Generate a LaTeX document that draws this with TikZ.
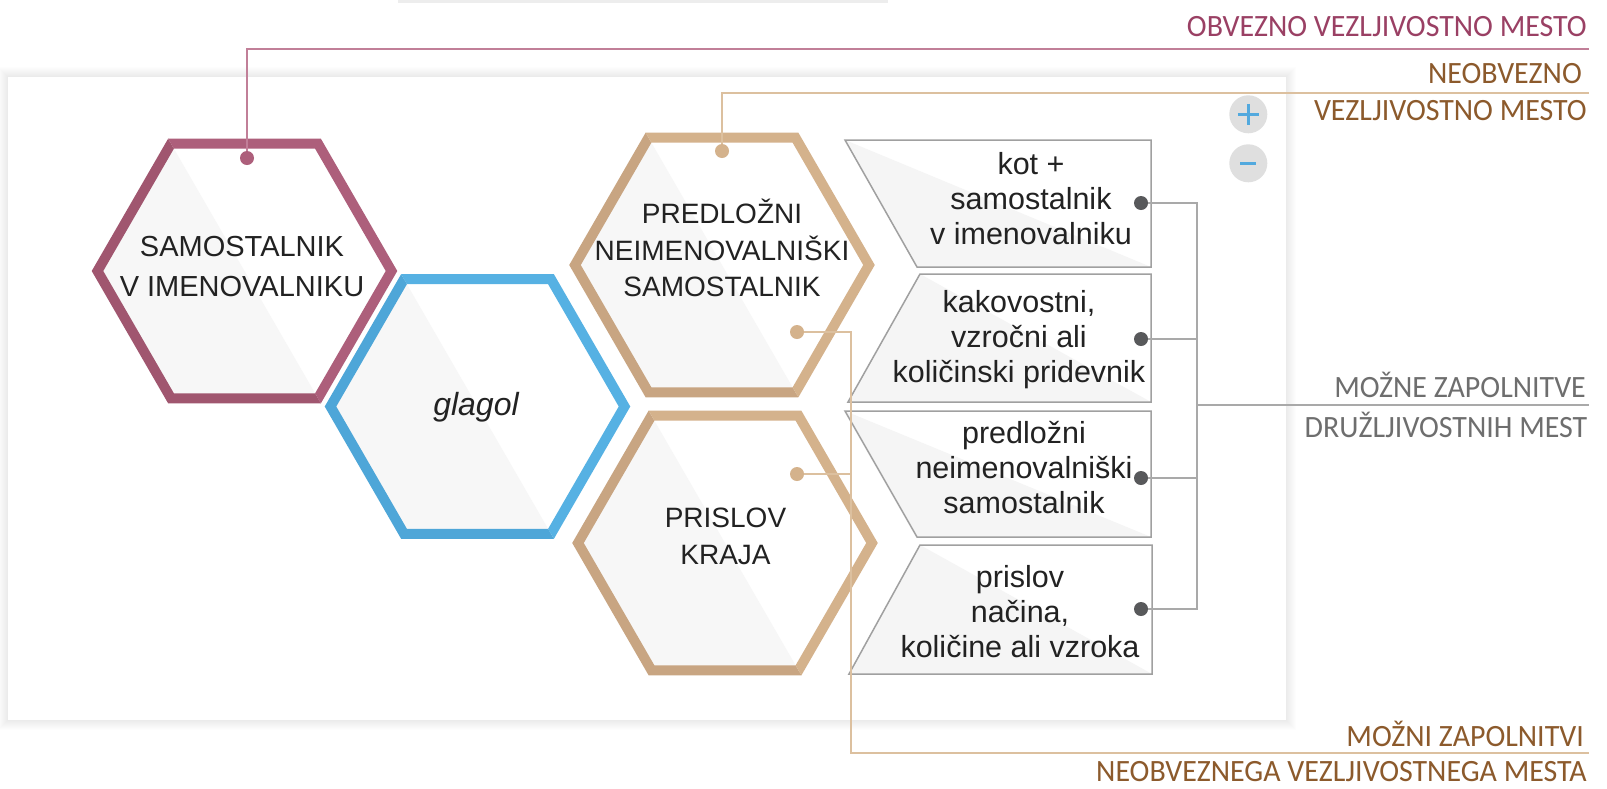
\documentclass[tikz,border=0pt]{standalone}
\usepackage{fontspec}
\setmainfont{Liberation Sans}
\newfontfamily\lblfont{Carlito}[FakeStretch=0.965]
\usetikzlibrary{calc}
\definecolor{magL}{HTML}{AD5F7B}
\definecolor{magD}{HTML}{A0566F}
\definecolor{bluL}{HTML}{56B1E3}
\definecolor{bluD}{HTML}{4EA6D8}
\definecolor{tanL}{HTML}{D4B28C}
\definecolor{tanD}{HTML}{C8A582}
\definecolor{hexgray}{HTML}{F7F7F7}
\definecolor{boxgray}{HTML}{F5F5F5}
\definecolor{boxedge}{HTML}{A0A0A0}
\definecolor{txtcol}{HTML}{222222}
\definecolor{magtxt}{HTML}{9A4064}
\definecolor{brntxt}{HTML}{8C5A2C}
\definecolor{grytxt}{HTML}{6E6E6E}
\definecolor{magln}{HTML}{C17F98}
\definecolor{tanln}{HTML}{DCC09F}
\definecolor{gryln}{HTML}{A9A9A9}
\definecolor{dotgray}{HTML}{58595B}
\definecolor{btnfill}{HTML}{DFDFDF}
\definecolor{btnblue}{HTML}{52A9DE}
\newcommand{\hexcell}[5]{%
\begin{scope}[shift={(#2,#3)}]
\fill[white] (147,0)--(73.5,127.3)--(-73.5,127.3)--(-147,0)--(-73.5,-127.3)--(73.5,-127.3)--cycle;
\begin{scope}
\clip (-88.2,-152.8)--(88.2,152.8)--(-400,152.8)--(-400,-152.8)--cycle;
\fill[hexgray] (147,0)--(73.5,127.3)--(-73.5,127.3)--(-147,0)--(-73.5,-127.3)--(73.5,-127.3)--cycle;
\draw[#5,line width=10pt] (147,0)--(73.5,127.3)--(-73.5,127.3)--(-147,0)--(-73.5,-127.3)--(73.5,-127.3)--cycle;
\end{scope}
\begin{scope}
\clip (-88.2,-152.8)--(88.2,152.8)--(400,152.8)--(400,-152.8)--cycle;
\draw[#4,line width=10pt] (147,0)--(73.5,127.3)--(-73.5,127.3)--(-147,0)--(-73.5,-127.3)--(73.5,-127.3)--cycle;
\end{scope}
\end{scope}
\coordinate (#1) at (#2,#3);}
\begin{document}
\begin{tikzpicture}[x=1pt,y=-1pt,
  boxline/.style={draw=boxedge,line width=1.5pt},
  boxtxt/.style={align=center,inner sep=0pt,text=txtcol,font=\fontsize{30.5}{35}\selectfont},
  hextxt/.style={align=center,inner sep=0pt,text=txtcol},
  lbl/.style={inner sep=0pt,anchor=base east,font=\lblfont\fontsize{31}{31}\selectfont},
  dot/.style={circle,inner sep=0pt,minimum size=14pt},
  conn/.style={line width=1.5pt}]
\useasboundingbox (0,0) rectangle (1607,788);
\fill[white] (0,0) rectangle (1607,788);
% top faint bar
\fill[black!7] (398,0) rectangle (888,2.5);
% panel with soft shadow
\foreach \i in {1,...,10} {
  \fill[black,opacity=0.008] (8-\i,77-\i) rectangle (1286+\i,720+\i);
}
\fill[white] (8,77) rectangle (1286,720);
% hexagons
\hexcell{h1}{244.5}{271}{magL}{magD}
\hexcell{h2}{477.5}{406.5}{bluL}{bluD}
\hexcell{h3}{722}{265}{tanL}{tanD}
\hexcell{h4}{725}{543}{tanL}{tanD}
% boxes
\fill[white] (845,140)--(1151,140)--(1151,267)--(917,267)--cycle;
\fill[boxgray] (845,140)--(1151,267)--(917,267)--cycle;
\draw[boxline] (845,140)--(1151,140)--(1151,267)--(917,267)--cycle;
\fill[white] (920,274)--(1151,274)--(1151,402)--(848,402)--cycle;
\fill[boxgray] (920,274)--(1151,402)--(848,402)--cycle;
\draw[boxline] (920,274)--(1151,274)--(1151,402)--(848,402)--cycle;
\fill[white] (845,411)--(1151,411)--(1151,537)--(917,537)--cycle;
\fill[boxgray] (845,411)--(1151,537)--(917,537)--cycle;
\draw[boxline] (845,411)--(1151,411)--(1151,537)--(917,537)--cycle;
\fill[white] (920,545)--(1152,545)--(1152,674)--(849,674)--cycle;
\fill[boxgray] (920,545)--(1152,674)--(849,674)--cycle;
\draw[boxline] (920,545)--(1152,545)--(1152,674)--(849,674)--cycle;
% texts
\node[hextxt,font=\fontsize{29}{40}\selectfont] (t1) at (242,267) {SAMOSTALNIK\\V IMENOVALNIKU};
\node[hextxt,font=\itshape\fontsize{32}{36}\selectfont] (t2) at (476,407) {glagol};
\node[hextxt,font=\fontsize{28}{36.5}\selectfont] (t3) at (722,248) {PREDLOŽNI\\NEIMENOVALNIŠKI\\SAMOSTALNIK};
\node[hextxt,font=\fontsize{28}{37}\selectfont] (t4) at (725.5,536.5) {PRISLOV\\KRAJA};
\node[boxtxt] (b1) at (1031,198.5) {kot +\\samostalnik\\v imenovalniku};
\node[boxtxt] (b2) at (1019,339.5) {kakovostni,\\vzročni ali\\količinski pridevnik};
\node[boxtxt] (b3) at (1024,467.5) {predložni\\neimenovalniški\\samostalnik};
\node[boxtxt] (b4) at (1020,612) {prislov\\načina,\\količine ali vzroka};
% buttons
\node[circle,fill=btnfill,minimum size=38pt,inner sep=0pt] (plus) at (1248.3,114.3) {};
\draw[btnblue,line width=3pt] ($(plus)+(-10.5,0)$) -- ($(plus)+(10.5,0)$) ($(plus)+(0,-10.5)$) -- ($(plus)+(0,10.5)$);
\node[circle,fill=btnfill,minimum size=38pt,inner sep=0pt] (minus) at (1248.3,163.3) {};
\draw[btnblue,line width=3pt] ($(minus)+(-8,0)$) -- ($(minus)+(8,0)$);
% dots
\node[dot,fill=magL] (d1) at (247,158) {};
\node[dot,fill=tanL] (d3a) at (722,151) {};
\node[dot,fill=tanL] (d3b) at (797,332) {};
\node[dot,fill=tanL] (d4) at (797,474) {};
\node[dot,fill=dotgray] (e1) at (1141,203) {};
\node[dot,fill=dotgray] (e2) at (1141,339) {};
\node[dot,fill=dotgray] (e3) at (1141,478) {};
\node[dot,fill=dotgray] (e4) at (1141,609) {};
% label anchors
\coordinate (m2) at (1589,49);
\coordinate (n2) at (1589,93);
\coordinate (t1c) at (851,753);
\coordinate (t2c) at (1589,753);
\coordinate (g1) at (1197,405);
\coordinate (g2) at (1589,405);
% connectors
\draw[conn,magln] (d1) |- (m2);
\draw[conn,tanln] (d3a) |- (n2);
\draw[conn,tanln] (d3b) -| (t1c) -- (t2c);
\draw[conn,tanln] (d4) -- (d4 -| t1c);
\draw[conn,gryln] (e1) -| (g1);
\draw[conn,gryln] (e4) -| (g1);
\draw[conn,gryln] (e2) -- (e2 -| g1);
\draw[conn,gryln] (e3) -- (e3 -| g1);
\draw[conn,gryln] (g1) -- (g2);
% labels
\node[lbl,text=magtxt] (L1) at (1587,36) {OBVEZNO VEZLJIVOSTNO MESTO};
\node[lbl,text=brntxt] (L2) at (1582,83.5) {NEOBVEZNO};
\node[lbl,text=brntxt] (L3) at (1587,120.7) {VEZLJIVOSTNO MESTO};
\node[lbl,text=grytxt] (L4) at (1586,397) {MOŽNE ZAPOLNITVE};
\node[lbl,text=grytxt] (L5) at (1587.5,437) {DRUŽLJIVOSTNIH MEST};
\node[lbl,text=brntxt] (L6) at (1584,746) {MOŽNI ZAPOLNITVI};
\node[lbl,text=brntxt] (L7) at (1587,781) {NEOBVEZNEGA VEZLJIVOSTNEGA MESTA};
\end{tikzpicture}
\end{document}
